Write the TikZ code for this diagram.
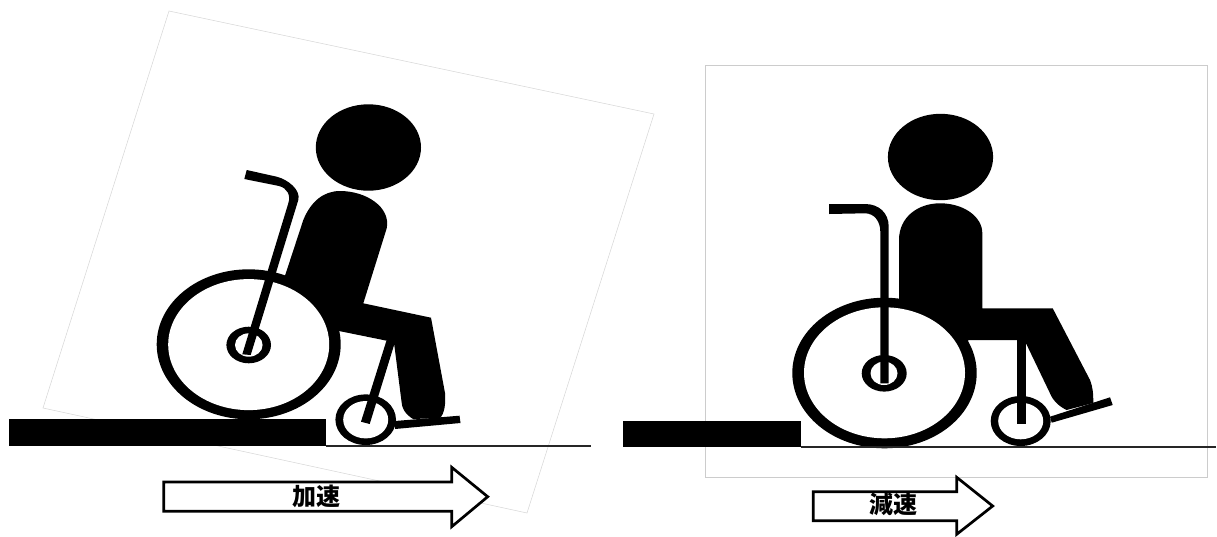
\documentclass[tikz,border=0pt]{standalone}
\usepackage{fontspec}
\newfontfamily\cjk{Noto Sans CJK JP}
\tikzset{
  x=1pt,y=-1pt,
  solid black/.style={fill=black,draw=none},
  hole/.style={fill=white,draw=none},
  pageframe/.style={draw=black!20,line width=0.9pt},
  tiltframe/.style={draw=black!16,line width=0.5pt},
  groundline/.style={draw=black!85,line width=1.7pt},
  blockarrow/.style={draw=black,fill=white,line width=2.7pt,miter limit=10},
  arrowtext/.style={font=\cjk\bfseries\fontsize{24}{24}\selectfont,inner sep=0pt,text=black}
}
\begin{document}
\begin{tikzpicture}
\useasboundingbox (0,0) rectangle (1217,536);
\fill[white] (0,0) rectangle (1217,536);
% frames
\draw[tiltframe] (169,11) -- (654,114) -- (527,513) -- (43,408) -- cycle;
\draw[pageframe] (705.5,65.3) rectangle (1207.3,477);

% ===== left figure =====
\fill[solid black] (368.4,147.5) ellipse [x radius=52.6,y radius=43.2];
\fill[solid black] (395,421) -- (459.5,415.7) -- (460.5,423) -- (395,429) -- cycle;
\fill[solid black] (303.3,220) .. controls (311,201) and (324,191) .. (340,191)
  .. controls (366,191) and (391,207) .. (386.7,228.3)
  -- (363.3,303.3) -- (431,317.7) -- (445,393)
  .. controls (446,405) and (444,414) .. (440,418)
  -- (413,419) .. controls (405,414) and (402,408) .. (401.7,403)
  -- (394.3,345) -- (386.7,340.7) -- (339,331) -- (300,360) -- (270,320) -- (285,275.7) -- cycle;
% rear wheel
\fill[solid black] (248.7,344.3) ellipse [x radius=92,y radius=75];
\fill[hole] (248.7,344.6) ellipse [x radius=80.5,y radius=65.5];
\fill[solid black] (248.7,345) ellipse [x radius=22.3,y radius=18.3];
\fill[hole] (248.8,345) ellipse [x radius=13.8,y radius=11.7];
% front wheel
\fill[solid black] (365.7,419.7) ellipse [x radius=30.3,y radius=25.3];
\fill[hole] (365.7,419.7) ellipse [x radius=22.5,y radius=18.7];
\fill[solid black] (386.5,340.5) -- (394.7,343) -- (369.7,424) -- (361,421.7) -- cycle;
% push frame
\fill[solid black] (246.7,170) -- (276.7,176.7) .. controls (288,179.5) and (301,190) .. (298.3,200)
  -- (250.7,355) -- (242.3,354.3) -- (288.3,203.3)
  .. controls (291,195) and (287,188) .. (279,186) -- (244.3,179) -- cycle;
% ramp and ground
\fill[solid black] (8.8,419.3) rectangle (326,445.7);
\draw[groundline] (326,446) -- (590.5,446);
% arrow
\draw[blockarrow] (163.7,482) -- (451.7,482) -- (451.7,467.3) -- (487.7,496.7) -- (451.7,526.7) -- (451.7,511.3) -- (163.7,511.3) -- cycle;
\node[arrowtext] (accel) at (316,496) {加速};

% ===== right figure =====
\fill[solid black] (940.5,157) ellipse [x radius=52.6,y radius=43.2];
\fill[solid black] (1050,416.7) -- (1110,397.3) -- (1112.7,405) -- (1051.7,422.7) -- cycle;
\fill[solid black] (899,240) .. controls (899,217) and (918,203.3) .. (940,203.3)
  .. controls (964,203.3) and (982.3,217) .. (982.3,233)
  -- (982.3,308.3) -- (1052.7,308.3) -- (1090,380)
  .. controls (1093,387) and (1093.3,395) .. (1093.3,403)
  -- (1066.7,410) .. controls (1060,407) and (1053,401) .. (1050,393.3)
  -- (1025.7,342.7) -- (1016.7,340) -- (969,340) -- (920,370) -- (899,320) -- cycle;
% rear wheel
\fill[solid black] (884.5,373) ellipse [x radius=92.2,y radius=75.3];
\fill[hole] (884.5,372.8) ellipse [x radius=80.5,y radius=65.5];
\fill[solid black] (884.2,373.3) ellipse [x radius=22.5,y radius=18.3];
\fill[hole] (884,373.3) ellipse [x radius=13.5,y radius=11.7];
% front wheel
\fill[solid black] (1020.7,421) ellipse [x radius=30,y radius=25];
\fill[hole] (1020.7,421) ellipse [x radius=22.5,y radius=18.3];
\fill[solid black] (1016.7,340) rectangle (1025.7,424.3);
% push frame
\fill[solid black] (829,204) -- (865,204) .. controls (879,204) and (888.7,213) .. (888.7,226.7)
  -- (888.7,383.3) -- (880.3,383.3) -- (880.3,231.7)
  .. controls (880.3,221) and (874,213.3) .. (865,213.3) -- (829,214) -- cycle;
% ramp and ground
\fill[solid black] (623.2,420.7) rectangle (800.7,447.3);
\draw[groundline] (800.7,447.3) -- (1216,447.3);
% arrow
\draw[blockarrow] (813.3,491.7) -- (956.7,491.7) -- (956.7,477.3) -- (992.7,506) -- (956.7,534.3) -- (956.7,520.7) -- (813.3,520.7) -- cycle;
\node[arrowtext] (decel) at (893.3,504.3) {減速};
\end{tikzpicture}
\end{document}
